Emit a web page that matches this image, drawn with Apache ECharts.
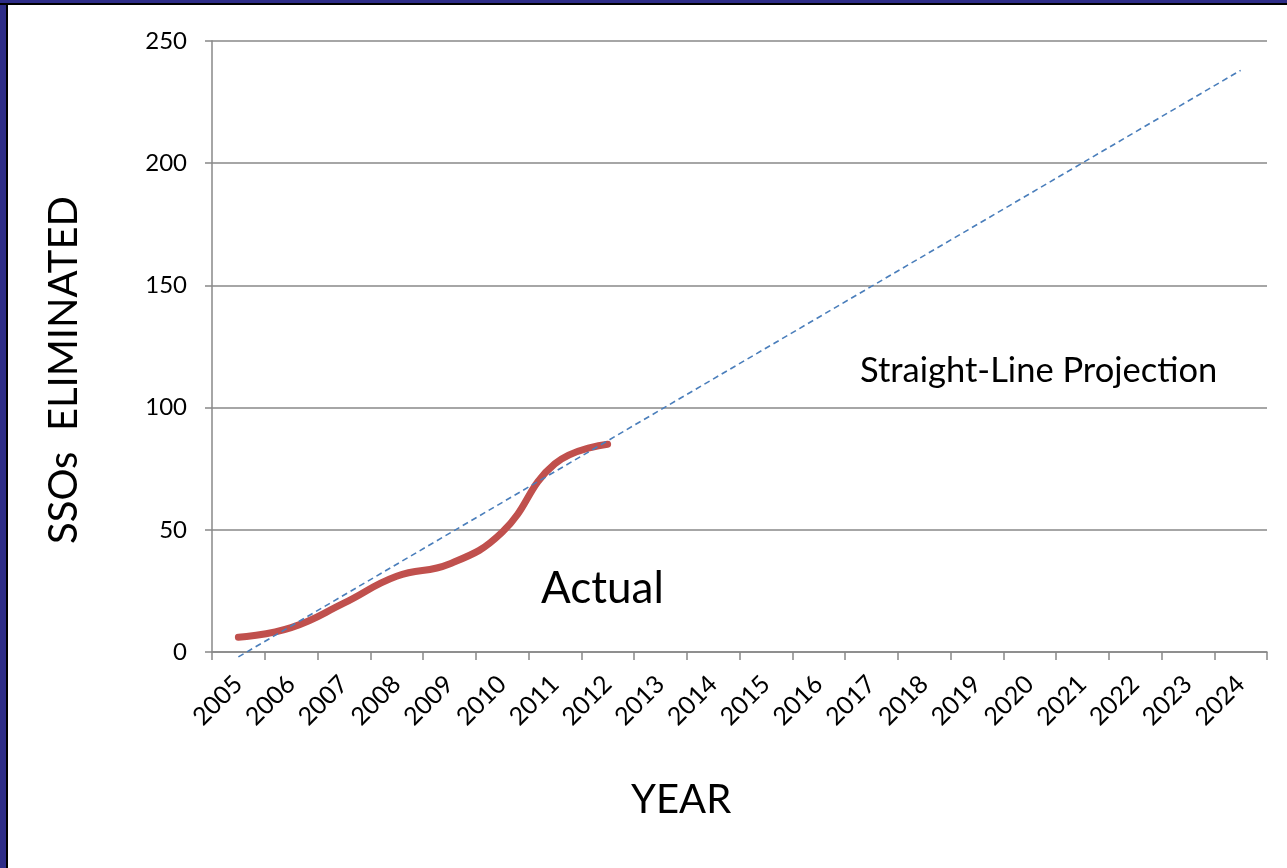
<!DOCTYPE html>
<html>
<head>
<meta charset="utf-8">
<script src="https://cdn.jsdelivr.net/npm/echarts@6/dist/echarts.min.js"></script>
<style>
  html, body { margin: 0; padding: 0; background: #fff; }
  #chart { position: absolute; left: 0; top: 0; width: 1287px; height: 868px; }
  #bl { position: absolute; left: 0; top: 0; width: 6px; height: 868px; background: #2e2d88; border-right: 2px solid #000; }
  #bt { position: absolute; left: 0; top: 0; width: 1287px; height: 3px; background: #2e2d88; border-bottom: 2px solid #000; }
</style>
</head>
<body>
<div id="chart"></div>
<div id="bl"></div>
<div id="bt"></div>
<script>
const years = ['2005','2006','2007','2008','2009','2010','2011','2012','2013','2014','2015','2016','2017','2018','2019','2020','2021','2022','2023','2024'];
const actual = [6, 10, 20, 31, 36, 49, 77, 85, null, null, null, null, null, null, null, null, null, null, null, null];
const projection = [-2, null, null, null, null, null, null, null, null, null, null, null, null, null, null, null, null, null, null, 238];
const yTicks = { min: 0, max: 250, interval: 50 };

const FONT = 'Lato';
const chart = echarts.init(document.getElementById('chart'), null, { renderer: 'canvas' });
chart.setOption({
  backgroundColor: '#ffffff',
  animation: false,
  grid: { left: 212, right: 20, top: 41, bottom: 216 },
  xAxis: {
    type: 'category',
    data: years,
    boundaryGap: true,
    axisLine: { lineStyle: { color: '#888888', width: 1.5 } },
    axisTick: { show: true, length: 8, interval: 0, lineStyle: { color: '#888888', width: 1.5 } },
    axisLabel: { interval: 0, rotate: 45, margin: 28, color: '#000', fontFamily: FONT, fontSize: 25 },
    splitLine: { show: false }
  },
  yAxis: {
    type: 'value',
    min: yTicks.min, max: yTicks.max, interval: yTicks.interval,
    axisLine: { show: true, lineStyle: { color: '#888888', width: 1.5 } },
    axisTick: { show: true, length: 7, lineStyle: { color: '#888888', width: 1.5 } },
    axisLabel: { margin: 25, color: '#000', fontFamily: FONT, fontSize: 24 },
    splitLine: { show: true, lineStyle: { color: '#888888', width: 1.5 } }
  },
  series: [
    {
      name: 'Straight-Line Projection',
      type: 'line',
      data: projection,
      connectNulls: true,
      clip: false,
      symbol: 'none',
      lineStyle: { color: '#4a7ebb', width: 1.6, type: [6, 4] },
      z: 3
    },
    {
      name: 'Actual',
      type: 'line',
      data: actual,
      smooth: 0.45,
      symbol: 'none',
      lineStyle: { color: '#c0504d', width: 7, cap: 'round', join: 'round' },
      z: 2
    }
  ],
  graphic: [
    { type: 'text', left: 860, top: 353, style: { text: 'Straight-Line Projection', font: '34.5px ' + FONT, fill: '#000' } },
    { type: 'text', left: 541, top: 567, style: { text: 'Actual', font: '44px ' + FONT, fill: '#000' } },
    { type: 'text', left: 631, top: 780, style: { text: 'YEAR', font: '40px ' + FONT, fill: '#000' } },
    { type: 'text', left: 44, top: 196, rotation: Math.PI / 2, style: { text: 'SSOs  ELIMINATED', font: '40px ' + FONT, fill: '#000' } }
  ]
});
</script>
</body>
</html>
